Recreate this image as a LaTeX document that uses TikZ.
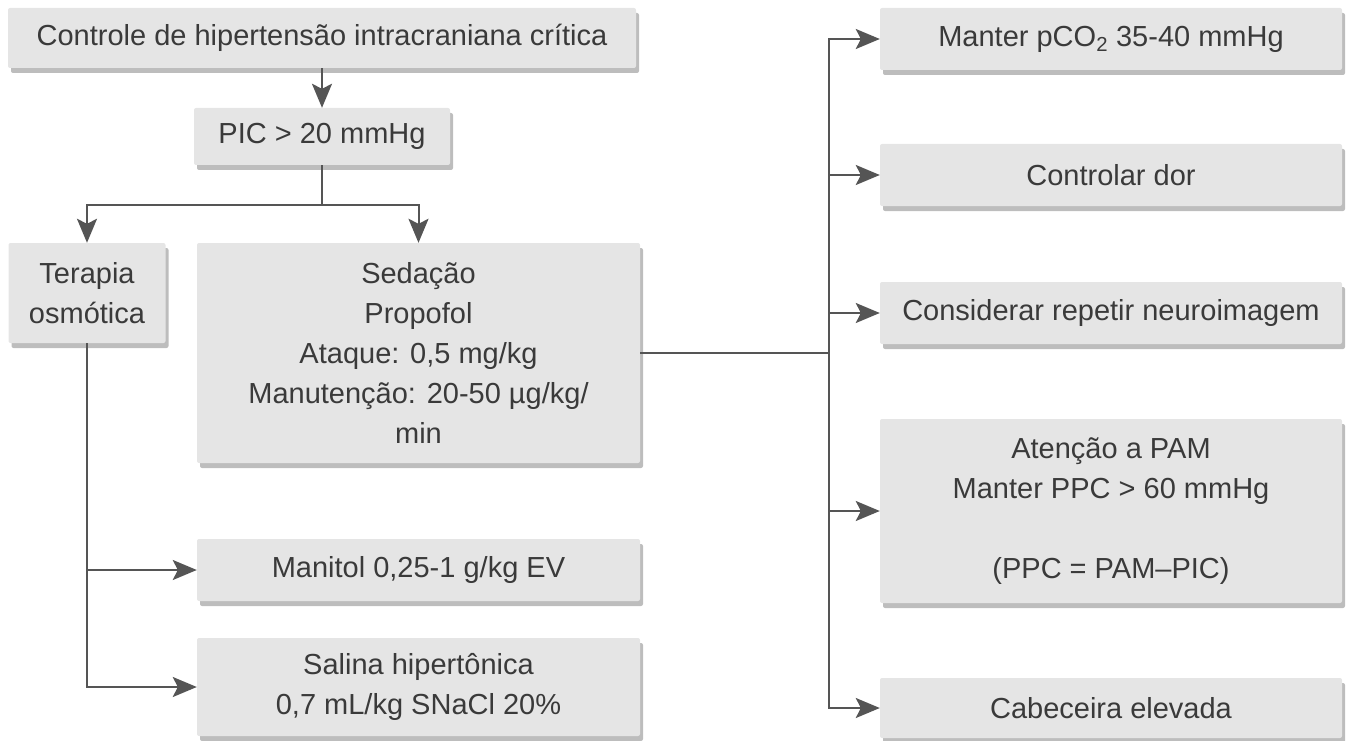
\documentclass[tikz,border=0pt]{standalone}
\usepackage{fontspec}
\setmainfont{Liberation Sans}
\usetikzlibrary{arrows.meta,shadows,calc}
\definecolor{boxgray}{HTML}{E5E5E5}
\definecolor{shadowgray}{HTML}{BDBDBD}
\definecolor{linegray}{HTML}{555555}
\definecolor{textgray}{HTML}{3A3A3A}
\begin{document}
\begin{tikzpicture}[x=1pt,y=-1pt,
  box/.style={fill=boxgray, rounded corners=2pt, inner sep=0pt, align=center,
    text=textgray, font=\fontsize{29}{40}\selectfont,
    drop shadow={shadow xshift=3pt,shadow yshift=-5pt,fill=shadowgray,opacity=1}},
  conn/.style={draw=linegray, line width=2pt},
  arr/.style={conn, -{Stealth[length=24pt,width=20pt,inset=5pt]}}]
\useasboundingbox (0,0) rectangle (1347,741);

% left column
\node[box, minimum width=628pt, minimum height=60pt] (b1) at (322,38) {Controle de hipertensão intracraniana crítica};
\node[box, minimum width=256pt, minimum height=57pt] (pic) at (322,136.5) {PIC > 20 mmHg};
\node[box, minimum width=157pt, minimum height=100pt] (ter) at (87,293) {Terapia\\osmótica};
\node[box, minimum width=443pt, minimum height=220pt] (sed) at (418.5,353) {Sedação\\Propofol\\Ataque: 0,5 mg/kg\\Manutenção: 20-50 µg/kg/\\min};
\node[box, minimum width=443pt, minimum height=62pt] (man) at (418.5,570) {Manitol 0,25-1 g/kg EV};
\node[box, minimum width=443pt, minimum height=98pt] (sal) at (418.5,687) {Salina hipertônica\\0,7 mL/kg SNaCl 20\%};

% right column
\node[box, minimum width=462pt, minimum height=62pt] (r1) at (1111,39) {Manter pCO\textsubscript{2} 35-40 mmHg};
\node[box, minimum width=462pt, minimum height=62pt] (r2) at (1111,175) {Controlar dor};
\node[box, minimum width=462pt, minimum height=62pt] (r3) at (1111,313) {Considerar repetir neuroimagem};
\node[box, minimum width=462pt, minimum height=184pt] (r4) at (1111,511) {Atenção a PAM\\Manter PPC > 60 mmHg\\[40pt](PPC = PAM–PIC)};
\node[box, minimum width=462pt, minimum height=60pt] (r5) at (1111,708) {Cabeceira elevada};

% connectors
\draw[arr] (b1.south) -- (pic.north);
\coordinate (sp) at (322,205);
\draw[conn] (pic.south) -- (sp);
\draw[arr] (sp) -| (ter.north);
\draw[arr] (sp) -| (sed.north);
\draw[arr] (ter.south) |- (man.west);
\draw[arr] (ter.south) |- (sal.west);
\coordinate (bus) at (829,353);
\draw[conn] (sed.east) -- (bus);
\foreach \r in {r1,r2,r3,r4,r5} {\draw[arr] (bus) |- (\r.west);}
\end{tikzpicture}
\end{document}
